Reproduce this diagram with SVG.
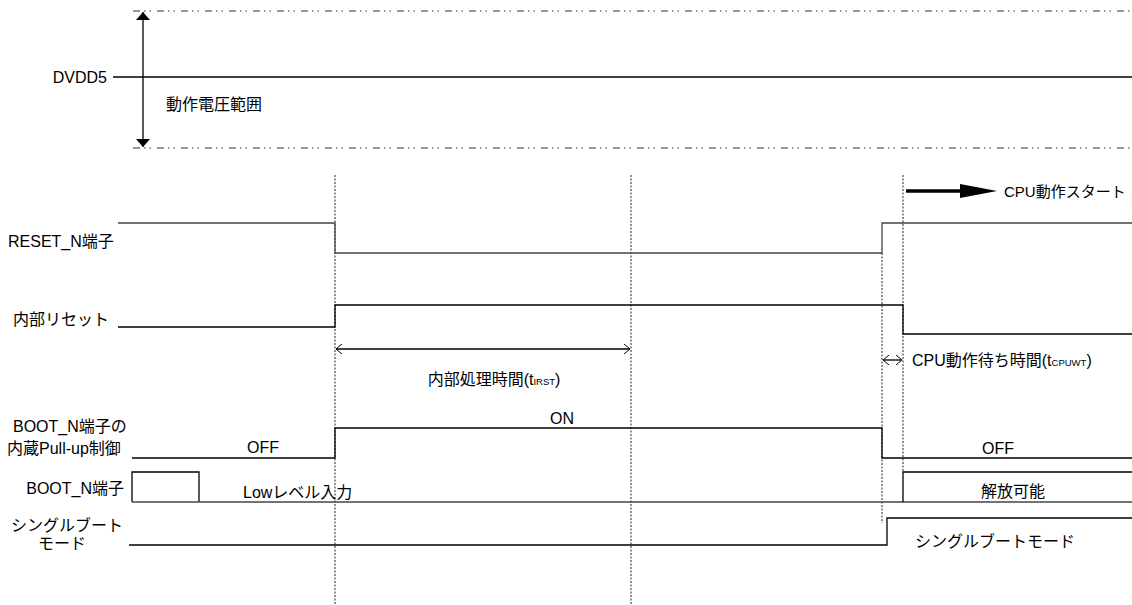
<svg xmlns="http://www.w3.org/2000/svg" width="1132" height="605" viewBox="0 0 1132 605">
<style>
text{font-family:"Liberation Sans","Noto Sans CJK JP",sans-serif;font-size:16px;fill:#000}
.w{fill:none;stroke:#000;stroke-width:1.3}
.g{fill:none;stroke:#444;stroke-width:1.3}
.dd{fill:none;stroke:#777;stroke-width:1.4;stroke-dasharray:7 4 1.5 4 1.5 6}
.dot{fill:none;stroke:#222;stroke-width:1;stroke-dasharray:2 1.5}
.m{text-anchor:middle}
.e{text-anchor:end}
.sub{font-size:9.5px}
</style>
<defs>
<marker id="fa" viewBox="0 0 8 14" refX="8" refY="7" markerWidth="8" markerHeight="14" markerUnits="userSpaceOnUse" orient="auto-start-reverse"><path d="M0,0 L8,7 L0,14 Z" fill="#000"/></marker>
<marker id="oa" viewBox="0 0 6 10" refX="6" refY="5" markerWidth="6" markerHeight="10" markerUnits="userSpaceOnUse" orient="auto-start-reverse"><path d="M0,0 L6,5 L0,10" fill="none" stroke="#000" stroke-width="1"/></marker>
</defs>
<g id="dvdd5">
<line class="dd" x1="133" y1="11" x2="1132" y2="11"/>
<line class="dd" x1="133" y1="148" x2="1132" y2="148"/>
<line class="w" x1="113" y1="77" x2="1132" y2="77"/>
<line class="w" x1="143" y1="12" x2="143" y2="147" marker-start="url(#fa)" marker-end="url(#fa)"/>
<text class="e" x="107" y="83">DVDD5</text>
<text x="166" y="110">動作電圧範囲</text>
</g>
<g id="connectors">
<line class="dot" x1="335" y1="175" x2="335" y2="605"/>
<line class="dot" x1="631" y1="175" x2="631" y2="605"/>
<line class="dot" x1="903" y1="175" x2="903" y2="472"/>
<line class="dot" x1="882" y1="253" x2="882" y2="523"/>
<line class="w" x1="336" y1="349" x2="630" y2="349" marker-start="url(#oa)" marker-end="url(#oa)" stroke-width="1"/>
<line class="w" x1="883" y1="360" x2="902" y2="360" marker-start="url(#oa)" marker-end="url(#oa)" stroke-width="1"/>
<line x1="906" y1="191" x2="962" y2="191" stroke="#000" stroke-width="3.5"/>
<path d="M960,184 L997,191 L960,198 Z" fill="#000"/>
</g>
<g id="cpu-start">
<text x="1004" y="197" style="font-size:15px">CPU動作スタート</text>
</g>
<g id="reset-n">
<path class="g" d="M118,223 H335 V253 H882 V223 H1132"/>
<text x="8" y="247">RESET_N端子</text>
</g>
<g id="internal-reset">
<path class="w" d="M118,327 H335 V305 H903 V334 H1132"/>
<text class="e" x="109" y="325">内部リセット</text>
</g>
<g id="t-irst">
<text class="m" x="494" y="385">内部処理時間(t<tspan class="sub">IRST</tspan>)</text>
</g>
<g id="t-cpuwt">
<text x="912" y="366">CPU動作待ち時間(t<tspan class="sub">CPUWT</tspan>)</text>
</g>
<g id="pullup">
<path class="w" d="M132,458 H335 V428 H882 V458 H1132"/>
<text x="13" y="432">BOOT_N端子の</text>
<text x="7" y="454">内蔵Pull-up制御</text>
<text class="m" x="263" y="453">OFF</text>
<text class="m" x="562" y="424">ON</text>
<text class="m" x="998" y="454">OFF</text>
</g>
<g id="boot-n">
<path class="w" d="M132,502 V472 H199 V502"/>
<line class="g" x1="132" y1="502" x2="1132" y2="502"/>
<path class="w" d="M1132,472 H903 V502"/>
<text class="e" x="124" y="494">BOOT_N端子</text>
<text x="243" y="498">Lowレベル入力</text>
<text class="m" x="1013" y="497">解放可能</text>
</g>
<g id="single-boot">
<path class="w" d="M129,545 H887 V518 H1132"/>
<text class="m" x="67" y="531">シングルブート</text>
<text class="m" x="62" y="549">モード</text>
<text class="m" x="995" y="547">シングルブートモード</text>
</g>
</svg>
